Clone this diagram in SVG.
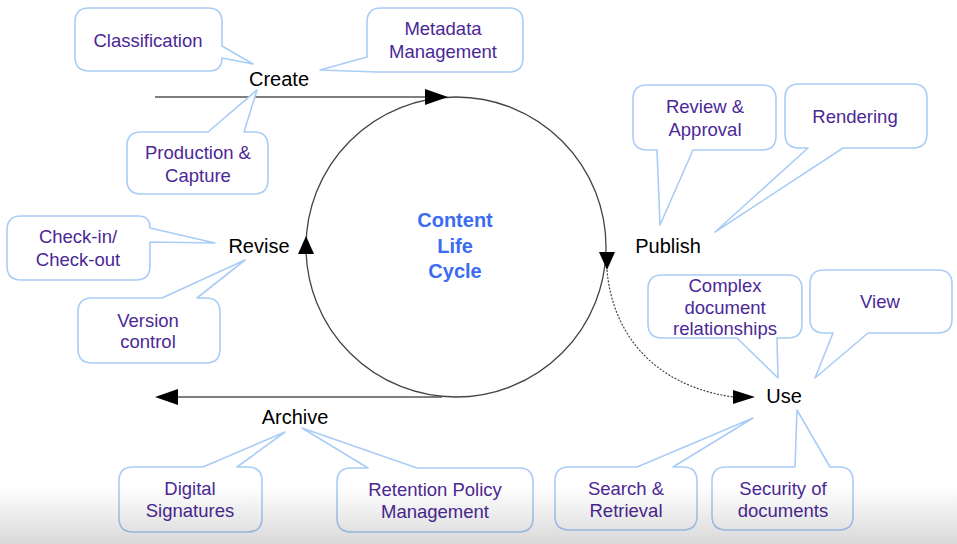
<svg xmlns="http://www.w3.org/2000/svg" width="957" height="544" viewBox="0 0 957 544">
<style>
.box{fill:#ffffff;stroke:#a9cdf6;stroke-width:1.6;stroke-linejoin:round}
.lbl{font-family:"Liberation Sans",Arial,sans-serif;font-size:18.5px;fill:#4b2896;text-anchor:middle}
.stage{font-family:"Liberation Sans",Arial,sans-serif;font-size:20px;fill:#000;text-anchor:middle}
.title{font-family:"Liberation Sans",Arial,sans-serif;font-size:20px;font-weight:bold;fill:#3b6cf2;text-anchor:middle}
.line{fill:none;stroke:#555;stroke-width:1.4}
.head{fill:#000}
</style>
<defs>
<linearGradient id="fade" x1="0" y1="0" x2="0" y2="1">
<stop offset="0" stop-color="#000" stop-opacity="0"/>
<stop offset="1" stop-color="#000" stop-opacity="0.15"/>
</linearGradient>
</defs>
<rect width="957" height="544" fill="#ffffff"/>

<g id="connectors">
<circle cx="456" cy="247" r="150" fill="none" stroke="#444" stroke-width="1.3"/>
<line class="line" x1="155" y1="97" x2="430" y2="97"/>
<polygon class="head" points="448,97 425,89 425,105"/>
<line class="line" x1="175" y1="397" x2="442" y2="397"/>
<polygon class="head" points="155,397 178,389 178,405"/>
<polygon class="head" points="306,236 298,254 314,254"/>
<polygon class="head" points="607,270 599,252 615,252"/>
<path d="M607,270 C612,330 650,385 733,397" fill="none" stroke="#444" stroke-width="1.2" stroke-dasharray="2,1.5"/>
<polygon class="head" points="755,397 733,390 733,404"/>
</g>

<g id="cycle">
<text class="title" x="455" y="227">Content</text>
<text class="title" x="455" y="253">Life</text>
<text class="title" x="455" y="278">Cycle</text>
</g>

<g id="create"><text class="stage" x="279" y="86">Create</text></g>
<g id="revise"><text class="stage" x="259" y="253">Revise</text></g>
<g id="publish"><text class="stage" x="668" y="253">Publish</text></g>
<g id="use"><text class="stage" x="784" y="403">Use</text></g>
<g id="archive"><text class="stage" x="295" y="424">Archive</text></g>

<g id="classification">
<path class="box" d="M89,8 H208 Q222,8 222,22 V46 L253,64 L222,58 Q222,71 209,71 H89 Q75,71 75,57 V22 Q75,8 89,8 Z"/>
<text class="lbl" x="148" y="47">Classification</text>
</g>
<g id="metadata">
<path class="box" d="M381,8 H509 Q523,8 523,22 V58 Q523,72 509,72 H377 L320,70 L367,57 V22 Q367,8 381,8 Z"/>
<text class="lbl" x="443" y="35">Metadata</text>
<text class="lbl" x="443" y="58">Management</text>
</g>
<g id="production">
<path class="box" d="M141,132 H208 L257,90 L244,132 H254 Q268,132 268,146 V180 Q268,194 254,194 H141 Q127,194 127,180 V146 Q127,132 141,132 Z"/>
<text class="lbl" x="198" y="159">Production &amp;</text>
<text class="lbl" x="198" y="182">Capture</text>
</g>
<g id="checkin">
<path class="box" d="M21,216 H138 Q150,216 150,228 L215,243 L150,242 V266 Q150,280 136,280 H21 Q7,280 7,266 V230 Q7,216 21,216 Z"/>
<text class="lbl" x="78" y="243">Check-in/</text>
<text class="lbl" x="78" y="266">Check-out</text>
</g>
<g id="version">
<path class="box" d="M92,298 H162 L245,260 L197,298 H206 Q220,298 220,312 V349 Q220,363 206,363 H92 Q78,363 78,349 V312 Q78,298 92,298 Z"/>
<text class="lbl" x="148" y="327">Version</text>
<text class="lbl" x="148" y="348">control</text>
</g>
<g id="review">
<path class="box" d="M647,85 H762 Q776,85 776,99 V136 Q776,150 762,150 H693 L660,225 L657,150 H647 Q633,150 633,136 V99 Q633,85 647,85 Z"/>
<text class="lbl" x="705" y="113">Review &amp;</text>
<text class="lbl" x="705" y="136">Approval</text>
</g>
<g id="rendering">
<path class="box" d="M799,84 H913 Q927,84 927,98 V134 Q927,148 913,148 H843 L715,232 L808,148 H799 Q785,148 785,134 V98 Q785,84 799,84 Z"/>
<text class="lbl" x="855" y="123">Rendering</text>
</g>
<g id="complex">
<path class="box" d="M662,275 H788 Q802,275 802,289 V324 Q802,338 788,338 H777 L778,378 L737,338 H662 Q648,338 648,324 V289 Q648,275 662,275 Z"/>
<text class="lbl" x="725" y="292">Complex</text>
<text class="lbl" x="725" y="314">document</text>
<text class="lbl" x="725" y="335">relationships</text>
</g>
<g id="view">
<path class="box" d="M824,270 H938 Q952,270 952,284 V319 Q952,333 938,333 H868 L815,378 L833,333 H824 Q810,333 810,319 V284 Q810,270 824,270 Z"/>
<text class="lbl" x="880" y="308">View</text>
</g>
<g id="search">
<path class="box" d="M569,467 H637 L753,418 L673,467 H683 Q697,467 697,481 V516 Q697,530 683,530 H569 Q555,530 555,516 V481 Q555,467 569,467 Z"/>
<text class="lbl" x="626" y="495">Search &amp;</text>
<text class="lbl" x="626" y="517">Retrieval</text>
</g>
<g id="security">
<path class="box" d="M726,467 H795 L797,410 L830,467 H839 Q853,467 853,481 V516 Q853,530 839,530 H726 Q712,530 712,516 V481 Q712,467 726,467 Z"/>
<text class="lbl" x="783" y="495">Security of</text>
<text class="lbl" x="783" y="517">documents</text>
</g>
<g id="digital">
<path class="box" d="M133,467 H203 L285,432 L237,467 H248 Q262,467 262,481 V518 Q262,532 248,532 H133 Q119,532 119,518 V481 Q119,467 133,467 Z"/>
<text class="lbl" x="190" y="495">Digital</text>
<text class="lbl" x="190" y="517">Signatures</text>
</g>
<g id="retention">
<path class="box" d="M351,468 H368 L302,428 L417,468 H519 Q533,468 533,482 V518 Q533,532 519,532 H351 Q337,532 337,518 V482 Q337,468 351,468 Z"/>
<text class="lbl" x="435" y="496">Retention Policy</text>
<text class="lbl" x="435" y="518">Management</text>
</g>

<rect x="0" y="486" width="957" height="58" fill="url(#fade)"/>
</svg>
